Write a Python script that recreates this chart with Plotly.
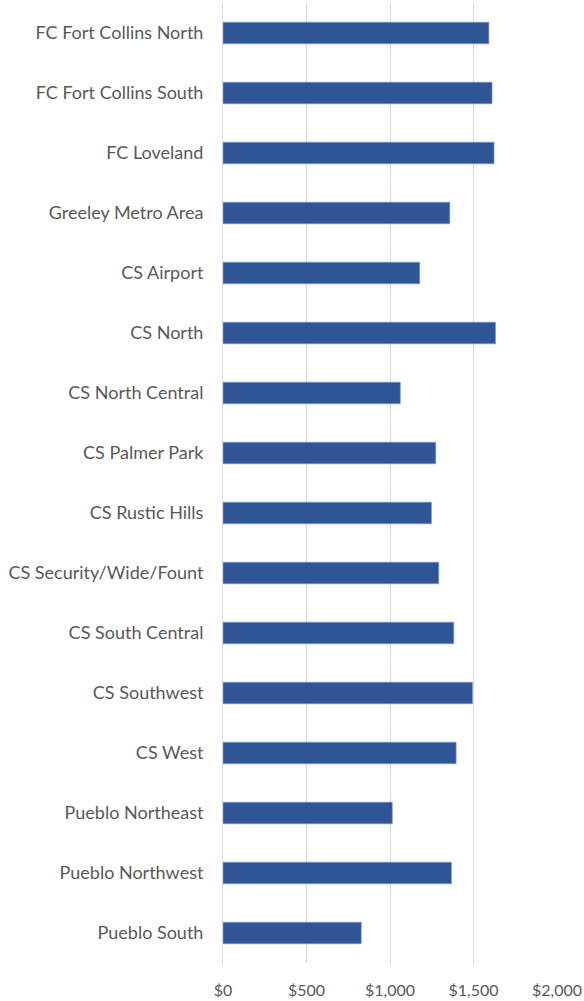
import plotly.graph_objects as go

categories = [
    "FC Fort Collins North", "FC Fort Collins South", "FC Loveland",
    "Greeley Metro Area", "CS Airport", "CS North", "CS North Central",
    "CS Palmer Park", "CS Rustic Hills", "CS Security/Wide/Fount",
    "CS South Central", "CS Southwest", "CS West", "Pueblo Northeast",
    "Pueblo Northwest", "Pueblo South",
]
values = [1592, 1611, 1623, 1358, 1178, 1632, 1062, 1274, 1248, 1292,
          1382, 1494, 1396, 1014, 1368, 828]
x_ticks = [0, 500, 1000, 1500, 2000]
x_tick_labels = ["$0", "$500", "$1,000", "$1,500", "$2,000"]

fig = go.Figure(go.Bar(
    x=values, y=categories, orientation="h",
    marker=dict(color="#2F5597", line=dict(color="#7F9BD0", width=0.6)),
    width=0.36,
))

fig.update_layout(
    width=584, height=1001,
    margin=dict(l=223, r=27, t=3, b=38, autoexpand=False),
    paper_bgcolor="white", plot_bgcolor="white",
    font=dict(family="Lato, 'Open Sans', sans-serif", size=18, color="#595959"),
    showlegend=False,
)
fig.update_xaxes(
    range=[0, 2000], tickvals=x_ticks, ticktext=x_tick_labels,
    showgrid=True, gridcolor="#D9D9D9", gridwidth=1,
    zeroline=False, showline=False, ticks="", automargin=False,
    ticklabelstandoff=16, tickfont=dict(size=16),
)
fig.update_yaxes(
    autorange="reversed", showgrid=False, zeroline=False,
    showline=True, linecolor="#D9D9D9", linewidth=1, automargin=False,
    ticks="", ticklabelstandoff=15,
)

fig.write_html(
    "out.html",
    config={"displayModeBar": False},
    post_script="document.body.style.margin='0';document.body.style.overflow='hidden';",
)
